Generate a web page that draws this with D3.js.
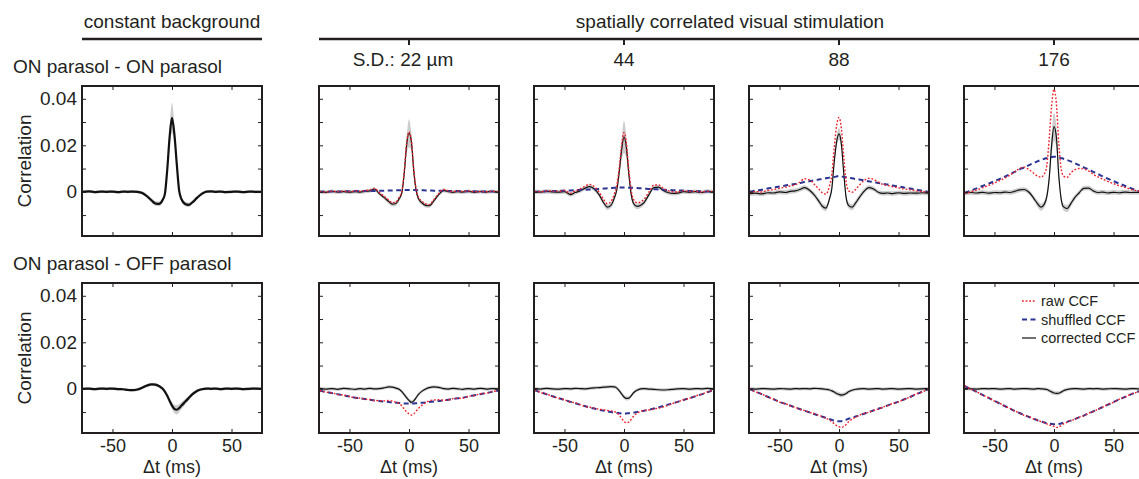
<!DOCTYPE html>
<html>
<head>
<meta charset="utf-8">
<script src="https://cdn.jsdelivr.net/npm/d3@7"></script>
<style>
  body { margin: 0; background: #fff; }
  svg text { font-family: "Liberation Sans", Arial, Helvetica, sans-serif; fill: #231f20; }
</style>
</head>
<body>
<svg id="chart" width="1139" height="479"></svg>
<script>
// time lags (ms) shared by every curve
const lagMs = [-75,-70,-65,-60,-55,-50,-45,-41,-37,-33,-29,-25,-21,-17,-14,-11,-8,-6,-4,-2,0,2,4,6,8,11,14,17,21,25,29,33,37,41,45,50,55,60,65,70,75];

const xTicks = [-50, 0, 50];
const yTicks = [-0.01, 0, 0.01, 0.02, 0.03, 0.04];
const yTickLabels = [0, 0.02, 0.04];
const sdLabels = ["S.D.: 22 µm", "44", "88", "176"];
const rowLabels = ["ON parasol - ON parasol", "ON parasol - OFF parasol"];
const legendLabels = ["raw CCF", "shuffled CCF", "corrected CCF"];

// ON-ON, columns: constant, 22, 44, 88, 176
const onOnCorrected = [
  [0,0.0002,-0.0001,0.0001,0,0.0001,-0.0001,0.0001,0,0.0001,0,-0.0005,-0.0019,-0.0038,-0.0050,-0.0052,-0.0036,-0.0010,0.0095,0.0235,0.0318,0.0248,0.0120,0.0005,-0.0032,-0.0052,-0.0056,-0.0046,-0.0026,-0.0009,0.0001,0.0002,0,0.0001,-0.0001,0,0.0001,-0.0001,0.0001,0,0],
  [0.0001,-0.0002,0.0002,-0.0001,0.0001,-0.0002,0.0001,-0.0001,0.0002,0.0004,0.0012,-0.0008,-0.0024,-0.0042,-0.0053,-0.0050,-0.0028,-0.0005,0.0080,0.0200,0.0252,0.0215,0.0090,0.0005,-0.0030,-0.0048,-0.0058,-0.0060,-0.0038,-0.0012,0.0006,0.0001,-0.0002,0.0001,-0.0001,0.0002,-0.0002,0.0001,-0.0001,0.0002,-0.0001],
  [0.0001,-0.0001,0.0002,0,-0.0001,0.0001,-0.0012,-0.0003,0.0004,0.0015,0.0022,0.0012,-0.0012,-0.0048,-0.0066,-0.0058,-0.0025,0.0010,0.0085,0.0180,0.0236,0.0190,0.0080,-0.0010,-0.0050,-0.0063,-0.0058,-0.0045,-0.0012,0.0018,0.0020,0.0006,-0.0003,-0.0007,-0.0006,0.0001,-0.0002,0.0001,-0.0003,0.0002,0],
  [-0.0008,-0.0006,-0.0009,-0.0004,-0.0005,0.0000,-0.0003,0.0002,0.0004,0.0010,0.0018,0.0008,-0.0012,-0.0040,-0.0062,-0.0070,-0.0030,0.0015,0.0130,0.0215,0.0249,0.0205,0.0080,-0.0025,-0.0058,-0.0066,-0.0048,-0.0025,0.0002,0.0018,0.0012,-0.0002,-0.0007,-0.0005,-0.0008,-0.0004,-0.0007,-0.0005,-0.0006,-0.0004,-0.0006],
  [-0.0006,-0.0003,-0.0005,-0.0002,-0.0006,-0.0003,-0.0004,-0.0001,-0.0003,0.0002,0.0008,0.0010,-0.0002,-0.0028,-0.0050,-0.0066,-0.0052,-0.0020,0.0060,0.0200,0.0280,0.0235,0.0070,-0.0030,-0.0065,-0.0072,-0.0052,-0.0028,-0.0005,0.0015,0.0016,0.0004,-0.0003,-0.0001,-0.0005,-0.0002,-0.0004,-0.0001,-0.0003,-0.0002,-0.0004]
];
const onOnSpread = [
  [0.0006,0.0006,0.0006,0.0006,0.0006,0.0006,0.0006,0.0006,0.0006,0.0006,0.0006,0.0007,0.0008,0.0009,0.001,0.001,0.001,0.0012,0.002,0.004,0.0065,0.004,0.002,0.0012,0.001,0.001,0.001,0.0009,0.0008,0.0007,0.0006,0.0006,0.0006,0.0006,0.0006,0.0006,0.0006,0.0006,0.0006,0.0006,0.0006],
  [0.0008,0.0008,0.0008,0.0008,0.0008,0.0008,0.0008,0.0008,0.0008,0.0008,0.0008,0.0008,0.0009,0.0009,0.001,0.001,0.001,0.0012,0.002,0.0035,0.006,0.0035,0.002,0.0012,0.001,0.001,0.001,0.0009,0.0009,0.0008,0.0008,0.0008,0.0008,0.0008,0.0008,0.0008,0.0008,0.0008,0.0008,0.0008,0.0008],
  [0.0009,0.0009,0.0009,0.0009,0.0009,0.0009,0.0009,0.0009,0.0009,0.0009,0.0009,0.0009,0.001,0.0011,0.0012,0.0012,0.0012,0.0014,0.0025,0.0045,0.007,0.0045,0.0025,0.0014,0.0012,0.0012,0.0012,0.0011,0.001,0.0009,0.0009,0.0009,0.0009,0.0009,0.0009,0.0009,0.0009,0.0009,0.0009,0.0009,0.0009],
  [0.001,0.001,0.001,0.001,0.001,0.001,0.001,0.001,0.001,0.001,0.001,0.001,0.0011,0.0012,0.0013,0.0013,0.0013,0.0014,0.0018,0.0022,0.0025,0.0022,0.0018,0.0014,0.0013,0.0013,0.0013,0.0012,0.0011,0.001,0.001,0.001,0.001,0.001,0.001,0.001,0.001,0.001,0.001,0.001,0.001],
  [0.001,0.001,0.001,0.001,0.001,0.001,0.001,0.001,0.001,0.001,0.001,0.001,0.0011,0.0012,0.0014,0.0015,0.0015,0.0016,0.0025,0.0045,0.006,0.0045,0.0025,0.0016,0.0015,0.0015,0.0014,0.0012,0.0011,0.001,0.001,0.001,0.001,0.001,0.001,0.001,0.001,0.001,0.001,0.001,0.001]
];
const onOnRaw = [
  null,
  [0.0002,-0.0001,0.0003,0.0000,0.0003,0.0000,0.0004,0.0002,0.0005,0.0008,0.0015,-0.0003,-0.0019,-0.0036,-0.0047,-0.0044,-0.0021,0.0002,0.0088,0.0208,0.0258,0.0222,0.0098,0.0012,-0.0023,-0.0041,-0.0052,-0.0055,-0.0033,-0.0007,0.0010,0.0004,0.0001,0.0004,0.0001,0.0004,0.0000,0.0002,0.0000,0.0002,0.0000],
  [0.0001,0,0.0004,0.0003,0.0003,0.0006,-0.0006,0.0004,0.0012,0.0024,0.0032,0.0023,0.0000,-0.0034,-0.0051,-0.0042,-0.0008,0.0028,0.0103,0.0199,0.0255,0.0209,0.0098,0.0008,-0.0033,-0.0047,-0.0043,-0.0031,0.0000,0.0029,0.0030,0.0015,0.0005,0.0000,-0.0001,0.0005,0.0001,0.0003,-0.0001,0.0003,0],
  [-0.0004,0.0001,-0.0001,0.0006,0.0010,0.0015,0.0020,0.0025,0.0030,0.0041,0.0056,0.0052,0.0034,0.0012,-0.0004,-0.0010,0.0025,0.0075,0.0190,0.0285,0.0320,0.0272,0.0150,0.0042,0.0005,-0.0002,0.0010,0.0028,0.0048,0.0058,0.0054,0.0042,0.0032,0.0027,0.0022,0.0017,0.0012,0.0009,0.0004,0.0001,-0.0002],
  [-0.0008,0.0000,0.0008,0.0018,0.0027,0.0038,0.0050,0.0060,0.0072,0.0086,0.0100,0.0106,0.0095,0.0080,0.0068,0.0063,0.0078,0.0115,0.0230,0.0370,0.0440,0.0380,0.0210,0.0100,0.0068,0.0062,0.0080,0.0094,0.0100,0.0098,0.0090,0.0075,0.0064,0.0054,0.0045,0.0035,0.0026,0.0018,0.0010,0.0004,-0.0002]
];
const onOnShuffled = [
  null,
  [0,0.0001,0.0001,0.0001,0.0002,0.0002,0.0003,0.0003,0.0003,0.0004,0.0004,0.0005,0.0005,0.0006,0.0006,0.0007,0.0007,0.0007,0.0008,0.0008,0.0008,0.0008,0.0008,0.0007,0.0007,0.0007,0.0006,0.0006,0.0005,0.0005,0.0004,0.0004,0.0003,0.0003,0.0003,0.0002,0.0002,0.0001,0.0001,0.0001,0],
  [0,0.0001,0.0002,0.0003,0.0004,0.0005,0.0006,0.0007,0.0008,0.0009,0.0010,0.0011,0.0012,0.0014,0.0015,0.0016,0.0017,0.0018,0.0018,0.0019,0.0019,0.0019,0.0018,0.0018,0.0017,0.0016,0.0015,0.0014,0.0012,0.0011,0.0010,0.0009,0.0008,0.0007,0.0006,0.0005,0.0004,0.0003,0.0002,0.0001,0],
  [0,0.0005,0.0009,0.0014,0.0018,0.0023,0.0027,0.0031,0.0034,0.0038,0.0042,0.0045,0.0049,0.0053,0.0055,0.0058,0.0061,0.0063,0.0064,0.0066,0.0068,0.0066,0.0064,0.0063,0.0061,0.0058,0.0055,0.0053,0.0049,0.0045,0.0042,0.0038,0.0034,0.0031,0.0027,0.0023,0.0018,0.0014,0.0009,0.0005,0],
  [-0.0005,0.0005,0.0015,0.0025,0.0035,0.0046,0.0057,0.0066,0.0076,0.0086,0.0096,0.0105,0.0115,0.0124,0.0131,0.0137,0.0142,0.0145,0.0148,0.0150,0.0151,0.0150,0.0148,0.0145,0.0142,0.0137,0.0131,0.0124,0.0115,0.0105,0.0096,0.0086,0.0076,0.0066,0.0057,0.0046,0.0035,0.0025,0.0015,0.0005,-0.0003]
];

// ON-OFF
const onOffCorrected = [
  [0.0000,0.0001,-0.0001,0.0001,0.0000,0.0001,-0.0001,-0.0002,-0.0005,-0.0006,-0.0003,0.0005,0.0014,0.0019,0.0018,0.0012,0.0001,-0.0012,-0.0030,-0.0052,-0.0072,-0.0086,-0.0090,-0.0083,-0.0072,-0.0056,-0.0040,-0.0024,-0.0009,-0.0002,0.0001,0.0000,0.0001,-0.0001,0.0001,0.0000,0.0001,-0.0001,0.0000,0.0001,0.0000],
  [0.0002,-0.0001,0.0001,-0.0002,0.0002,0.0000,-0.0002,0.0001,-0.0001,0.0002,0.0000,0.0001,0.0004,0.0008,0.0007,0.0003,-0.0003,-0.0012,-0.0025,-0.0038,-0.0050,-0.0058,-0.0052,-0.0038,-0.0024,-0.0010,-0.0001,0.0005,0.0008,0.0006,0.0001,-0.0001,0.0002,0.0000,-0.0002,0.0001,-0.0001,0.0002,-0.0001,0.0001,0.0000],
  [0.0001,-0.0001,0.0002,0.0000,-0.0001,0.0001,0.0000,0.0002,0.0001,0.0000,0.0002,0.0004,0.0005,0.0007,0.0008,0.0009,0.0008,0.0003,-0.0008,-0.0022,-0.0035,-0.0041,-0.0040,-0.0030,-0.0017,-0.0006,0.0000,0.0001,-0.0001,-0.0002,-0.0004,-0.0005,-0.0004,-0.0002,0.0000,0.0001,-0.0001,0.0001,0.0000,0.0002,0.0000],
  [0.0001,-0.0001,0.0001,0.0000,-0.0001,0.0001,0.0000,-0.0001,0.0001,0.0000,0.0001,0.0000,0.0002,0.0001,0.0000,-0.0002,-0.0005,-0.0009,-0.0014,-0.0020,-0.0024,-0.0027,-0.0025,-0.0020,-0.0013,-0.0006,-0.0002,0.0000,0.0001,-0.0001,0.0000,0.0001,-0.0001,0.0000,0.0001,-0.0001,0.0000,0.0001,-0.0001,0.0000,0.0001],
  [0.0001,0.0000,-0.0001,0.0001,0.0000,0.0001,-0.0001,0.0000,0.0001,-0.0001,0.0000,0.0001,0.0000,-0.0001,0.0001,0.0000,-0.0001,-0.0003,-0.0008,-0.0013,-0.0018,-0.0020,-0.0019,-0.0014,-0.0008,-0.0003,0.0000,0.0001,0.0000,-0.0001,0.0001,0.0000,0.0001,-0.0001,0.0000,0.0001,0.0000,-0.0001,0.0001,0.0000,0.0001]
];
const onOffSpread = [
  [0.0006,0.0006,0.0006,0.0006,0.0006,0.0006,0.0006,0.0006,0.0006,0.0006,0.0006,0.0006,0.0007,0.0007,0.0007,0.0007,0.0008,0.0009,0.001,0.0012,0.0015,0.0018,0.002,0.0018,0.0015,0.0012,0.001,0.0008,0.0007,0.0006,0.0006,0.0006,0.0006,0.0006,0.0006,0.0006,0.0006,0.0006,0.0006,0.0006,0.0006],
  [0.0007,0.0007,0.0007,0.0007,0.0007,0.0007,0.0007,0.0007,0.0007,0.0007,0.0007,0.0007,0.0007,0.0007,0.0007,0.0007,0.0007,0.0008,0.0008,0.0009,0.0009,0.0009,0.0009,0.0008,0.0008,0.0007,0.0007,0.0007,0.0007,0.0007,0.0007,0.0007,0.0007,0.0007,0.0007,0.0007,0.0007,0.0007,0.0007,0.0007,0.0007],
  [0.0007,0.0007,0.0007,0.0007,0.0007,0.0007,0.0007,0.0007,0.0007,0.0007,0.0007,0.0007,0.0007,0.0007,0.0007,0.0007,0.0007,0.0008,0.0008,0.0009,0.0009,0.0009,0.0009,0.0008,0.0008,0.0007,0.0007,0.0007,0.0007,0.0007,0.0007,0.0007,0.0007,0.0007,0.0007,0.0007,0.0007,0.0007,0.0007,0.0007,0.0007],
  [0.0007,0.0007,0.0007,0.0007,0.0007,0.0007,0.0007,0.0007,0.0007,0.0007,0.0007,0.0007,0.0007,0.0007,0.0007,0.0007,0.0007,0.0008,0.0008,0.0009,0.0009,0.0009,0.0009,0.0008,0.0008,0.0007,0.0007,0.0007,0.0007,0.0007,0.0007,0.0007,0.0007,0.0007,0.0007,0.0007,0.0007,0.0007,0.0007,0.0007,0.0007],
  [0.0007,0.0007,0.0007,0.0007,0.0007,0.0007,0.0007,0.0007,0.0007,0.0007,0.0007,0.0007,0.0007,0.0007,0.0007,0.0007,0.0007,0.0008,0.0008,0.0009,0.0009,0.0009,0.0009,0.0008,0.0008,0.0007,0.0007,0.0007,0.0007,0.0007,0.0007,0.0007,0.0007,0.0007,0.0007,0.0007,0.0007,0.0007,0.0007,0.0007,0.0007]
];
const onOffRaw = [
  null,
  [-0.0007,-0.0014,-0.0017,-0.0024,-0.0027,-0.0033,-0.0039,-0.0040,-0.0045,-0.0046,-0.0050,-0.0051,-0.0052,-0.0050,-0.0053,-0.0058,-0.0064,-0.0074,-0.0087,-0.0099,-0.0108,-0.0113,-0.0108,-0.0096,-0.0084,-0.0070,-0.0060,-0.0052,-0.0048,-0.0047,-0.0049,-0.0048,-0.0042,-0.0041,-0.0040,-0.0032,-0.0029,-0.0021,-0.0019,-0.0012,-0.0008],
  [-0.0005,-0.0016,-0.0022,-0.0033,-0.0040,-0.0047,-0.0057,-0.0060,-0.0068,-0.0075,-0.0079,-0.0083,-0.0088,-0.0090,-0.0093,-0.0095,-0.0098,-0.0104,-0.0113,-0.0127,-0.0140,-0.0146,-0.0143,-0.0132,-0.0118,-0.0105,-0.0097,-0.0093,-0.0091,-0.0087,-0.0083,-0.0078,-0.0071,-0.0063,-0.0056,-0.0047,-0.0041,-0.0031,-0.0024,-0.0013,-0.0006],
  [0.0000,-0.0013,-0.0022,-0.0035,-0.0044,-0.0057,-0.0064,-0.0073,-0.0079,-0.0088,-0.0093,-0.0101,-0.0106,-0.0114,-0.0120,-0.0127,-0.0134,-0.0142,-0.0150,-0.0158,-0.0163,-0.0166,-0.0162,-0.0153,-0.0142,-0.0131,-0.0121,-0.0114,-0.0106,-0.0101,-0.0093,-0.0087,-0.0078,-0.0072,-0.0063,-0.0056,-0.0044,-0.0035,-0.0022,-0.0013,-0.0001],
  [0.0013,-0.0001,-0.0012,-0.0027,-0.0038,-0.0053,-0.0064,-0.0076,-0.0084,-0.0096,-0.0103,-0.0114,-0.0120,-0.0130,-0.0134,-0.0141,-0.0146,-0.0151,-0.0155,-0.0158,-0.0162,-0.0166,-0.0164,-0.0158,-0.0151,-0.0144,-0.0136,-0.0132,-0.0122,-0.0116,-0.0105,-0.0098,-0.0087,-0.0079,-0.0068,-0.0058,-0.0044,-0.0035,-0.0022,-0.0014,-0.0004]
];
const onOffShuffled = [
  null,
  [-0.0008,-0.0013,-0.0018,-0.0023,-0.0028,-0.0033,-0.0038,-0.0041,-0.0044,-0.0047,-0.0050,-0.0052,-0.0055,-0.0057,-0.0059,-0.0060,-0.0061,-0.0062,-0.0063,-0.0063,-0.0064,-0.0063,-0.0063,-0.0062,-0.0061,-0.0060,-0.0059,-0.0057,-0.0055,-0.0052,-0.0050,-0.0047,-0.0044,-0.0041,-0.0038,-0.0033,-0.0028,-0.0023,-0.0018,-0.0013,-0.0008],
  [-0.0006,-0.0015,-0.0024,-0.0032,-0.0040,-0.0048,-0.0056,-0.0062,-0.0068,-0.0074,-0.0080,-0.0085,-0.0090,-0.0094,-0.0097,-0.0100,-0.0103,-0.0104,-0.0105,-0.0106,-0.0107,-0.0106,-0.0105,-0.0104,-0.0103,-0.0100,-0.0097,-0.0094,-0.0090,-0.0085,-0.0080,-0.0074,-0.0068,-0.0062,-0.0056,-0.0048,-0.0040,-0.0032,-0.0024,-0.0015,-0.0006],
  [-0.0001,-0.0012,-0.0023,-0.0034,-0.0045,-0.0056,-0.0065,-0.0072,-0.0080,-0.0087,-0.0094,-0.0101,-0.0108,-0.0115,-0.0120,-0.0125,-0.0130,-0.0134,-0.0137,-0.0139,-0.0140,-0.0139,-0.0137,-0.0133,-0.0129,-0.0124,-0.0119,-0.0114,-0.0107,-0.0100,-0.0093,-0.0086,-0.0079,-0.0071,-0.0064,-0.0055,-0.0045,-0.0034,-0.0023,-0.0012,-0.0002],
  [0.0012,0.0000,-0.0013,-0.0026,-0.0039,-0.0052,-0.0065,-0.0075,-0.0085,-0.0095,-0.0104,-0.0113,-0.0121,-0.0129,-0.0135,-0.0140,-0.0145,-0.0148,-0.0150,-0.0151,-0.0152,-0.0152,-0.0151,-0.0149,-0.0146,-0.0142,-0.0137,-0.0131,-0.0123,-0.0115,-0.0106,-0.0097,-0.0088,-0.0078,-0.0069,-0.0057,-0.0045,-0.0034,-0.0023,-0.0013,-0.0005]
];

const rows = [
  {corr: onOnCorrected, spread: onOnSpread, raw: onOnRaw, shuf: onOnShuffled},
  {corr: onOffCorrected, spread: onOffSpread, raw: onOffRaw, shuf: onOffShuffled}
];

// layout
const panelW = 180, panelH = 150;
const colX = [82, 319, 534, 749, 964];
const rowY = [86, 283];
const ink = "#231f20";
const red = "#f0202a", blue = "#2b3593", band = "#cdcdcd";

const svg = d3.select("#chart");

const x = d3.scaleLinear().domain([-75.6, 75.6]).range([0, panelW]);
const y = d3.scaleLinear().domain([-0.019, 0.0455]).range([panelH, 0]);

const line = d3.line()
    .x((d, i) => x(lagMs[i]))
    .y(d => y(d))
    .curve(d3.curveMonotoneX);

// quick sanity check on typed arrays
let bad = [];
rows.forEach((r, ri) => ["corr","spread","raw","shuf"].forEach(k => r[k].forEach((a, ci) => {
  if (a && a.length !== lagMs.length) bad.push(`${ri}${k}${ci}:${a.length}`);
})));
if (bad.length) svg.append("text").attr("x", 300).attr("y", 470).style("fill", "red").text("len " + bad.join(" "));

// headers
svg.append("text").attr("x", 172).attr("y", 28).attr("text-anchor", "middle")
    .attr("font-size", 19).text("constant background");
svg.append("line").attr("x1", 82).attr("x2", 262).attr("y1", 39).attr("y2", 39)
    .attr("stroke", ink).attr("stroke-width", 2.5);
svg.append("text").attr("x", 730).attr("y", 28).attr("text-anchor", "middle")
    .attr("font-size", 19).text("spatially correlated visual stimulation");
svg.append("line").attr("x1", 319).attr("x2", 1139).attr("y1", 39).attr("y2", 39)
    .attr("stroke", ink).attr("stroke-width", 2.5);

sdLabels.forEach((s, i) => {
  const cx = colX[i + 1] + panelW / 2;
  svg.append("line").attr("x1", cx).attr("x2", cx).attr("y1", 39).attr("y2", 45)
      .attr("stroke", ink).attr("stroke-width", 2);
  svg.append("text").attr("x", i === 0 ? cx - 6 : cx).attr("y", 66).attr("text-anchor", "middle")
      .attr("font-size", 19).text(s);
});

rowLabels.forEach((s, r) => {
  svg.append("text").attr("x", 13).attr("y", rowY[r] - 13)
      .attr("font-size", 19).text(s);
  svg.append("text")
      .attr("transform", `translate(31,${rowY[r] + panelH / 2}) rotate(-90)`)
      .attr("text-anchor", "middle").attr("font-size", 19).text("Correlation");
});

rows.forEach((row, r) => {
  colX.forEach((cx, c) => {
    const g = svg.append("g").attr("transform", `translate(${cx},${rowY[r]})`);
    const corr = row.corr[c], spread = row.spread[c];

    g.append("path")
        .datum(corr)
        .attr("fill", band)
        .attr("d", d3.area()
            .x((d, i) => x(lagMs[i]))
            .y0((d, i) => y(d - spread[i]))
            .y1((d, i) => y(d + spread[i]))
            .curve(d3.curveMonotoneX));

    g.append("path").datum(corr)
        .attr("fill", "none").attr("stroke", "#111")
        .attr("stroke-width", c === 0 ? 2.2 : 1.2)
        .attr("d", line);

    if (row.shuf[c]) {
      g.append("path").datum(row.shuf[c])
          .attr("fill", "none").attr("stroke", blue)
          .attr("stroke-width", 2).attr("stroke-dasharray", "5,3.5")
          .attr("d", line);
    }
    if (row.raw[c]) {
      g.append("path").datum(row.raw[c])
          .attr("fill", "none").attr("stroke", red)
          .attr("stroke-width", 1.4).attr("stroke-dasharray", "1.8,1.8")
          .attr("d", line);
    }

    const fmtY = d => yTickLabels.includes(d) ? (d === 0 ? "0" : d3.format(".2f")(d)) : "";

    const axes = [
      g.append("g").attr("transform", `translate(0,${panelH})`)
          .call(d3.axisBottom(x).tickValues(xTicks).tickSize(-4).tickPadding(6)
              .tickFormat(r === 1 ? d => String(d) : () => "")),
      g.append("g")
          .call(d3.axisTop(x).tickValues(xTicks).tickSize(-4).tickFormat(() => "")),
      g.append("g")
          .call(d3.axisLeft(y).tickValues(yTicks).tickSize(-4).tickPadding(5)
              .tickFormat(c === 0 ? fmtY : () => "")),
      g.append("g").attr("transform", `translate(${panelW},0)`)
          .call(d3.axisRight(y).tickValues(yTicks).tickSize(-4).tickFormat(() => ""))
    ];
    axes.forEach((a, k) => {
      a.select(".domain").remove();
      a.selectAll(".tick line").attr("stroke", ink).attr("stroke-width", 1);
      a.selectAll("text").attr("font-size", k === 0 ? 18 : 19)
          .attr("font-family", "Liberation Sans, Arial, sans-serif").style("fill", ink);
    });

    g.append("rect").attr("width", panelW).attr("height", panelH)
        .attr("fill", "none").attr("stroke", ink).attr("stroke-width", 2);

    if (r === 1) {
      g.append("text").attr("x", panelW / 2).attr("y", panelH + 40)
          .attr("text-anchor", "middle").attr("font-size", 18).text("Δt (ms)");
    }

    // legend sits in the last lower panel
    if (r === 1 && c === colX.length - 1) {
      const styles = [
        {stroke: red, w: 1.4, dash: "1.8,1.8"},
        {stroke: blue, w: 2, dash: "5,3.5"},
        {stroke: "#111", w: 1.2, dash: null}
      ];
      legendLabels.forEach((lab, k) => {
        const ly = 18 + k * 18.5;
        g.append("line").attr("x1", 58).attr("x2", 72).attr("y1", ly).attr("y2", ly)
            .attr("stroke", styles[k].stroke).attr("stroke-width", styles[k].w)
            .attr("stroke-dasharray", styles[k].dash);
        g.append("text").attr("x", 77).attr("y", ly + 5).attr("font-size", 14.5).text(lab);
      });
    }
  });
});
</script>
</body>
</html>
